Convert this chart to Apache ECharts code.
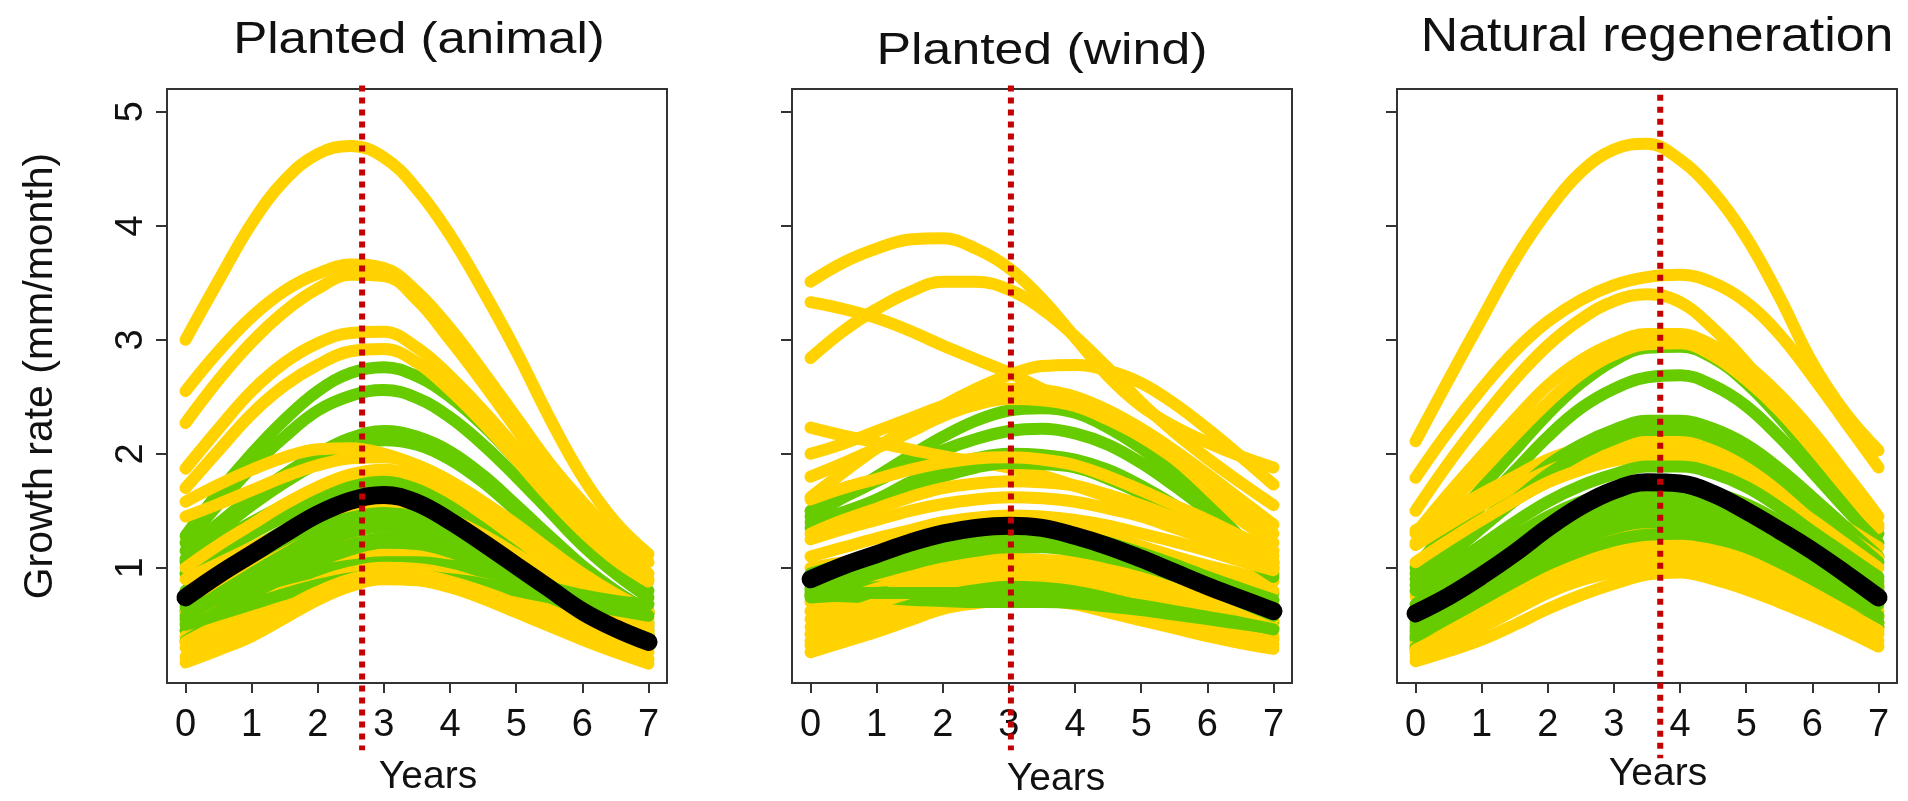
<!DOCTYPE html>
<html>
<head>
<meta charset="utf-8">
<script src="https://cdn.jsdelivr.net/npm/echarts@6/dist/echarts.min.js"></script>
<style>
  html, body { margin: 0; padding: 0; background: #ffffff; }
  #chart { width: 1908px; height: 801px; }
</style>
</head>
<body>
<div id="chart"></div>
<script>
// Years since planting at which each growth curve is sampled (half-year steps)
const years = [0, 0.5, 1, 1.5, 2, 2.5, 3, 3.5, 4, 4.5, 5, 5.5, 6, 6.5, 7];
const xTickValues = [0, 1, 2, 3, 4, 5, 6, 7];
const yTickValues = [1, 2, 3, 4, 5];

const panelTitles = ['Planted (animal)', 'Planted (wind)', 'Natural regeneration'];
const xAxisTitle = 'Years';
const yAxisTitle = 'Growth rate (mm/month)';

// Year of peak mean growth in each panel (red dotted marker)
const peakYears = [2.67, 3.03, 3.70];

// ---- Planted (animal) ----
const animalYellow = [
  [3.00, 3.52, 4.02, 4.40, 4.63, 4.70, 4.60, 4.32, 3.92, 3.43, 2.90, 2.32, 1.80, 1.40, 1.12],
  [2.55, 2.90, 3.20, 3.43, 3.58, 3.66, 3.63, 3.42, 3.10, 2.72, 2.32, 1.92, 1.58, 1.28, 1.05],
  [2.27, 2.65, 2.98, 3.25, 3.45, 3.57, 3.56, 3.35, 3.00, 2.62, 2.22, 1.83, 1.48, 1.18, 0.95],
  [1.87, 2.22, 2.55, 2.80, 2.97, 3.06, 3.07, 2.93, 2.68, 2.38, 2.05, 1.70, 1.38, 1.10, 0.90],
  [1.70, 2.03, 2.35, 2.60, 2.78, 2.90, 2.92, 2.80, 2.56, 2.27, 1.95, 1.62, 1.32, 1.07, 0.88],
  [1.58, 1.73, 1.86, 1.97, 2.04, 2.05, 2.00, 1.90, 1.76, 1.58, 1.38, 1.16, 0.95, 0.77, 0.62],
  [1.45, 1.56, 1.68, 1.80, 1.90, 1.96, 1.97, 1.90, 1.76, 1.57, 1.36, 1.14, 0.93, 0.75, 0.60],
  [1.00, 1.20, 1.38, 1.56, 1.71, 1.82, 1.86, 1.80, 1.66, 1.47, 1.26, 1.05, 0.86, 0.69, 0.55],
  [0.90, 1.04, 1.18, 1.32, 1.45, 1.54, 1.58, 1.54, 1.43, 1.29, 1.12, 0.95, 0.78, 0.63, 0.50],
  [0.62, 0.80, 0.97, 1.13, 1.27, 1.36, 1.40, 1.37, 1.28, 1.15, 1.00, 0.84, 0.69, 0.56, 0.45],
  [0.52, 0.69, 0.85, 1.00, 1.12, 1.21, 1.25, 1.23, 1.15, 1.04, 0.90, 0.76, 0.63, 0.51, 0.42],
  [0.45, 0.62, 0.78, 0.92, 1.05, 1.14, 1.18, 1.16, 1.10, 0.98, 0.85, 0.71, 0.58, 0.46, 0.36],
  [0.40, 0.54, 0.68, 0.82, 0.95, 1.05, 1.10, 1.08, 1.03, 0.93, 0.80, 0.67, 0.55, 0.43, 0.32],
  [0.35, 0.50, 0.65, 0.80, 0.93, 1.02, 1.06, 1.04, 0.98, 0.88, 0.76, 0.63, 0.51, 0.40, 0.30],
  [0.30, 0.44, 0.58, 0.73, 0.87, 0.96, 1.00, 0.99, 0.94, 0.85, 0.74, 0.61, 0.49, 0.37, 0.26],
  [0.22, 0.35, 0.48, 0.64, 0.79, 0.90, 0.95, 0.94, 0.88, 0.79, 0.68, 0.55, 0.43, 0.31, 0.20],
  [0.17, 0.28, 0.40, 0.56, 0.72, 0.84, 0.90, 0.89, 0.83, 0.73, 0.61, 0.49, 0.37, 0.26, 0.16]
];
const animalGreen = [
  [1.28, 1.66, 2.00, 2.30, 2.55, 2.71, 2.76, 2.68, 2.50, 2.25, 1.95, 1.62, 1.30, 1.02, 0.80],
  [1.22, 1.56, 1.88, 2.15, 2.38, 2.51, 2.56, 2.49, 2.32, 2.08, 1.80, 1.50, 1.20, 0.95, 0.74],
  [1.15, 1.39, 1.62, 1.82, 2.00, 2.14, 2.20, 2.15, 2.02, 1.81, 1.55, 1.28, 1.02, 0.80, 0.62],
  [1.08, 1.32, 1.55, 1.75, 1.92, 2.06, 2.12, 2.08, 1.95, 1.75, 1.50, 1.24, 0.98, 0.77, 0.60],
  [1.05, 1.23, 1.40, 1.55, 1.68, 1.76, 1.78, 1.73, 1.62, 1.44, 1.22, 1.00, 0.80, 0.62, 0.48],
  [0.95, 1.13, 1.30, 1.45, 1.58, 1.67, 1.70, 1.66, 1.55, 1.38, 1.17, 0.96, 0.76, 0.59, 0.45],
  [0.80, 0.99, 1.17, 1.33, 1.47, 1.57, 1.62, 1.60, 1.51, 1.36, 1.17, 0.97, 0.79, 0.64, 0.52],
  [0.68, 0.90, 1.10, 1.27, 1.42, 1.51, 1.55, 1.52, 1.42, 1.27, 1.08, 0.88, 0.70, 0.55, 0.42],
  [0.62, 0.83, 1.02, 1.19, 1.35, 1.44, 1.48, 1.45, 1.36, 1.21, 1.03, 0.85, 0.68, 0.53, 0.40],
  [0.58, 0.77, 0.95, 1.12, 1.28, 1.38, 1.42, 1.39, 1.30, 1.15, 0.98, 0.81, 0.64, 0.50, 0.38],
  [0.55, 0.73, 0.90, 1.06, 1.20, 1.31, 1.36, 1.34, 1.25, 1.11, 0.95, 0.78, 0.62, 0.48, 0.36],
  [0.45, 0.62, 0.79, 0.95, 1.10, 1.20, 1.26, 1.25, 1.18, 1.06, 0.92, 0.77, 0.62, 0.49, 0.38],
  [0.36, 0.54, 0.72, 0.89, 1.05, 1.16, 1.22, 1.21, 1.14, 1.02, 0.88, 0.72, 0.57, 0.43, 0.30],
  [0.65, 0.74, 0.82, 0.90, 0.97, 1.02, 1.05, 1.05, 1.02, 0.97, 0.90, 0.83, 0.76, 0.71, 0.68],
  [0.50, 0.59, 0.68, 0.77, 0.85, 0.91, 0.94, 0.93, 0.90, 0.86, 0.80, 0.74, 0.68, 0.63, 0.58]
];
const animalMean = [0.74, 0.94, 1.12, 1.30, 1.47, 1.59, 1.64, 1.57, 1.41, 1.22, 1.02, 0.82, 0.62, 0.47, 0.35];

// ---- Planted (wind) ----
const windYellow = [
  [0.42, 0.52, 0.62, 0.72, 0.80, 0.85, 0.88, 0.87, 0.85, 0.79, 0.72, 0.64, 0.55, 0.47, 0.40],
  [0.36, 0.46, 0.56, 0.66, 0.74, 0.79, 0.82, 0.81, 0.79, 0.73, 0.66, 0.59, 0.51, 0.44, 0.37],
  [0.32, 0.41, 0.50, 0.60, 0.68, 0.73, 0.76, 0.75, 0.73, 0.67, 0.60, 0.53, 0.46, 0.39, 0.33],
  [0.26, 0.35, 0.44, 0.54, 0.64, 0.69, 0.72, 0.71, 0.68, 0.61, 0.54, 0.47, 0.40, 0.34, 0.29],
  [0.85, 0.97, 1.08, 1.18, 1.26, 1.32, 1.35, 1.35, 1.33, 1.27, 1.19, 1.10, 1.02, 0.95, 0.88],
  [0.70, 0.80, 0.88, 0.96, 1.02, 1.06, 1.08, 1.07, 1.05, 0.99, 0.92, 0.85, 0.78, 0.73, 0.68],
  [0.62, 0.72, 0.82, 0.90, 0.97, 1.02, 1.04, 1.04, 1.01, 0.95, 0.88, 0.81, 0.74, 0.68, 0.62],
  [0.55, 0.66, 0.75, 0.84, 0.92, 0.97, 1.00, 0.99, 0.95, 0.89, 0.82, 0.75, 0.68, 0.61, 0.55],
  [0.48, 0.59, 0.69, 0.78, 0.86, 0.91, 0.94, 0.93, 0.90, 0.84, 0.77, 0.70, 0.62, 0.55, 0.48],
  [1.00, 1.05, 1.10, 1.14, 1.18, 1.21, 1.22, 1.22, 1.20, 1.16, 1.10, 1.03, 0.95, 0.88, 0.80],
  [3.51, 3.68, 3.80, 3.88, 3.89, 3.80, 3.63, 3.36, 3.02, 2.68, 2.42, 2.24, 2.10, 1.98, 1.88],
  [2.84, 3.08, 3.27, 3.42, 3.51, 3.51, 3.44, 3.27, 3.03, 2.75, 2.45, 2.19, 1.96, 1.75, 1.55],
  [3.33, 3.27, 3.19, 3.08, 2.95, 2.83, 2.71, 2.57, 2.42, 2.24, 2.05, 1.84, 1.62, 1.42, 1.22],
  [1.62, 1.84, 2.05, 2.24, 2.42, 2.57, 2.69, 2.77, 2.78, 2.73, 2.62, 2.44, 2.22, 1.98, 1.73],
  [2.23, 2.16, 2.10, 2.04, 1.98, 1.93, 1.88, 1.81, 1.72, 1.62, 1.50, 1.39, 1.28, 1.16, 1.05],
  [2.00, 2.09, 2.20, 2.31, 2.42, 2.51, 2.57, 2.56, 2.50, 2.38, 2.22, 2.03, 1.82, 1.60, 1.38],
  [1.80, 1.92, 2.05, 2.19, 2.33, 2.43, 2.48, 2.47, 2.42, 2.30, 2.15, 1.96, 1.75, 1.53, 1.30],
  [1.60, 1.70, 1.78, 1.86, 1.92, 1.96, 1.97, 1.95, 1.90, 1.80, 1.68, 1.55, 1.42, 1.28, 1.15],
  [1.30, 1.42, 1.52, 1.62, 1.70, 1.74, 1.76, 1.75, 1.72, 1.64, 1.55, 1.44, 1.33, 1.21, 1.10],
  [1.25, 1.34, 1.42, 1.50, 1.56, 1.60, 1.62, 1.61, 1.58, 1.52, 1.45, 1.35, 1.25, 1.13, 1.02],
  [1.10, 1.18, 1.26, 1.33, 1.40, 1.44, 1.46, 1.45, 1.42, 1.37, 1.30, 1.23, 1.15, 1.06, 0.98]
];
const windGreen = [
  [0.86, 0.89, 0.92, 0.95, 0.98, 1.00, 1.02, 1.02, 1.00, 0.97, 0.94, 0.90, 0.86, 0.82, 0.78],
  [0.80, 0.81, 0.83, 0.85, 0.86, 0.87, 0.87, 0.86, 0.84, 0.80, 0.76, 0.72, 0.67, 0.63, 0.60],
  [0.74, 0.76, 0.78, 0.80, 0.82, 0.83, 0.84, 0.83, 0.80, 0.76, 0.72, 0.67, 0.62, 0.57, 0.52],
  [0.76, 0.75, 0.74, 0.72, 0.71, 0.70, 0.70, 0.70, 0.69, 0.66, 0.63, 0.59, 0.55, 0.51, 0.47],
  [0.78, 0.78, 0.78, 0.78, 0.78, 0.78, 0.78, 0.77, 0.75, 0.71, 0.67, 0.62, 0.57, 0.52, 0.46],
  [0.95, 1.03, 1.11, 1.18, 1.25, 1.30, 1.32, 1.32, 1.29, 1.22, 1.13, 1.03, 0.92, 0.82, 0.72],
  [0.82, 0.91, 1.00, 1.10, 1.18, 1.24, 1.28, 1.28, 1.25, 1.18, 1.10, 1.00, 0.90, 0.78, 0.66],
  [0.76, 0.86, 0.95, 1.03, 1.10, 1.15, 1.18, 1.18, 1.15, 1.09, 1.02, 0.93, 0.83, 0.70, 0.58],
  [1.45, 1.62, 1.80, 1.98, 2.15, 2.29, 2.38, 2.40, 2.36, 2.23, 2.05, 1.82, 1.55, 1.27, 1.00],
  [1.50, 1.62, 1.76, 1.90, 2.03, 2.13, 2.20, 2.22, 2.18, 2.08, 1.92, 1.72, 1.50, 1.27, 1.05],
  [1.40, 1.49, 1.60, 1.75, 1.88, 1.96, 2.00, 1.99, 1.95, 1.86, 1.72, 1.55, 1.35, 1.15, 0.95],
  [1.35, 1.44, 1.55, 1.68, 1.80, 1.88, 1.92, 1.91, 1.88, 1.78, 1.65, 1.48, 1.30, 1.11, 0.92]
];
const windMean = [0.90, 1.02, 1.12, 1.22, 1.30, 1.35, 1.37, 1.35, 1.28, 1.19, 1.08, 0.96, 0.84, 0.73, 0.62];

// ---- Natural regeneration ----
const naturalYellow = [
  [0.75, 0.91, 1.06, 1.20, 1.33, 1.43, 1.50, 1.54, 1.54, 1.49, 1.40, 1.27, 1.12, 0.98, 0.85],
  [0.55, 0.72, 0.89, 1.05, 1.19, 1.30, 1.37, 1.40, 1.40, 1.35, 1.26, 1.13, 0.97, 0.80, 0.62],
  [0.42, 0.60, 0.78, 0.95, 1.10, 1.22, 1.30, 1.33, 1.33, 1.28, 1.19, 1.06, 0.90, 0.73, 0.57],
  [0.35, 0.53, 0.70, 0.87, 1.02, 1.14, 1.22, 1.25, 1.25, 1.20, 1.11, 0.98, 0.84, 0.68, 0.52],
  [0.32, 0.48, 0.64, 0.80, 0.95, 1.07, 1.15, 1.19, 1.19, 1.14, 1.06, 0.94, 0.80, 0.64, 0.48],
  [0.28, 0.43, 0.58, 0.74, 0.90, 1.01, 1.08, 1.12, 1.12, 1.07, 1.00, 0.89, 0.76, 0.61, 0.45],
  [0.26, 0.40, 0.54, 0.69, 0.84, 0.95, 1.02, 1.06, 1.06, 1.02, 0.95, 0.84, 0.71, 0.57, 0.42],
  [0.22, 0.35, 0.48, 0.63, 0.78, 0.89, 0.96, 1.00, 1.00, 0.96, 0.89, 0.78, 0.66, 0.51, 0.36],
  [0.18, 0.27, 0.37, 0.50, 0.64, 0.76, 0.86, 0.94, 0.96, 0.90, 0.81, 0.70, 0.58, 0.45, 0.31],
  [2.11, 2.65, 3.18, 3.70, 4.13, 4.47, 4.67, 4.72, 4.58, 4.30, 3.90, 3.38, 2.80, 2.36, 2.03],
  [1.79, 2.20, 2.57, 2.90, 3.16, 3.35, 3.48, 3.55, 3.57, 3.50, 3.33, 3.05, 2.68, 2.28, 1.88],
  [1.50, 1.92, 2.30, 2.65, 2.95, 3.18, 3.34, 3.40, 3.33, 3.10, 2.80, 2.43, 2.05, 1.70, 1.38],
  [1.30, 1.65, 1.98, 2.30, 2.60, 2.82, 2.97, 3.05, 3.05, 2.95, 2.78, 2.52, 2.20, 1.83, 1.45],
  [1.22, 1.54, 1.85, 2.16, 2.45, 2.70, 2.87, 2.96, 2.97, 2.86, 2.65, 2.38, 2.05, 1.70, 1.35],
  [1.33, 1.49, 1.65, 1.80, 1.95, 2.05, 2.12, 2.15, 2.14, 2.07, 1.95, 1.77, 1.56, 1.36, 1.18],
  [1.20, 1.38, 1.55, 1.71, 1.85, 1.95, 2.02, 2.05, 2.04, 1.98, 1.87, 1.70, 1.50, 1.29, 1.09],
  [1.05, 1.24, 1.42, 1.59, 1.75, 1.86, 1.94, 1.97, 1.96, 1.90, 1.79, 1.62, 1.42, 1.21, 1.00]
];
const naturalGreen = [
  [0.38, 0.50, 0.62, 0.75, 0.88, 0.98, 1.05, 1.09, 1.10, 1.06, 1.00, 0.89, 0.76, 0.64, 0.52],
  [0.30, 0.42, 0.55, 0.68, 0.82, 0.92, 1.00, 1.04, 1.05, 1.01, 0.95, 0.84, 0.72, 0.60, 0.48],
  [0.40, 0.56, 0.72, 0.88, 1.03, 1.15, 1.24, 1.29, 1.30, 1.26, 1.18, 1.05, 0.90, 0.74, 0.58],
  [0.68, 0.89, 1.09, 1.28, 1.45, 1.58, 1.67, 1.72, 1.72, 1.66, 1.56, 1.41, 1.23, 1.05, 0.88],
  [0.62, 0.82, 1.02, 1.20, 1.37, 1.50, 1.60, 1.66, 1.66, 1.61, 1.52, 1.37, 1.19, 1.00, 0.83],
  [0.57, 0.79, 1.00, 1.18, 1.35, 1.48, 1.58, 1.63, 1.63, 1.58, 1.49, 1.34, 1.15, 0.97, 0.80],
  [0.52, 0.72, 0.92, 1.11, 1.28, 1.41, 1.50, 1.55, 1.55, 1.50, 1.41, 1.27, 1.10, 0.93, 0.76],
  [0.48, 0.67, 0.85, 1.02, 1.18, 1.32, 1.42, 1.47, 1.47, 1.43, 1.34, 1.21, 1.05, 0.88, 0.72],
  [0.45, 0.63, 0.80, 0.97, 1.12, 1.25, 1.35, 1.40, 1.40, 1.36, 1.27, 1.15, 1.00, 0.84, 0.68],
  [1.00, 1.35, 1.70, 2.03, 2.35, 2.62, 2.82, 2.93, 2.94, 2.84, 2.62, 2.32, 1.97, 1.62, 1.30],
  [0.95, 1.25, 1.55, 1.85, 2.15, 2.40, 2.57, 2.67, 2.69, 2.60, 2.42, 2.15, 1.84, 1.52, 1.22],
  [0.90, 1.15, 1.40, 1.65, 1.90, 2.08, 2.21, 2.29, 2.29, 2.22, 2.08, 1.87, 1.62, 1.36, 1.10],
  [0.85, 1.10, 1.35, 1.59, 1.82, 2.00, 2.13, 2.21, 2.21, 2.14, 2.00, 1.80, 1.55, 1.30, 1.05],
  [0.80, 1.00, 1.20, 1.40, 1.58, 1.72, 1.82, 1.89, 1.89, 1.83, 1.71, 1.53, 1.32, 1.12, 0.92]
];
const naturalMean = [0.60, 0.75, 0.93, 1.13, 1.35, 1.54, 1.68, 1.75, 1.74, 1.65, 1.50, 1.33, 1.15, 0.95, 0.74];

// ---------------------------------------------------------------
// greenLag: number of yellow curves drawn before the first green one
const panels = [
  { yellow: animalYellow,  green: animalGreen,  mean: animalMean,  greenLag: 0 },
  { yellow: windYellow,    green: windGreen,    mean: windMean,    greenLag: 4 },
  { yellow: naturalYellow, green: naturalGreen, mean: naturalMean, greenLag: 3 }
];

const FONT = '"Liberation Sans", Arial, Helvetica, sans-serif';
const YELLOW = '#FFD200';
const GREEN = '#66CC00';
const BOX = '#333333';
const gridLeft = [167, 792, 1397];
const GRID_TOP = 89, GRID_W = 500, GRID_H = 594;
const markerTop = [5.23, 5.23, 5.15];
const markerBottom = [-0.6, -0.6, -0.67];

function curve(values, color, width, idx, z) {
  return {
    type: 'line',
    xAxisIndex: idx,
    yAxisIndex: idx,
    data: years.map((t, i) => [t, values[i]]),
    smooth: 0.4,
    symbol: 'none',
    showSymbol: false,
    silent: true,
    animation: false,
    z: z,
    lineStyle: { color: color, width: width, cap: 'round', join: 'round' }
  };
}

const grids = [], xAxes = [], yAxes = [], series = [];

panels.forEach((p, idx) => {
  grids.push({
    left: gridLeft[idx], top: GRID_TOP, width: GRID_W, height: GRID_H,
    show: true, borderColor: BOX, borderWidth: 2, backgroundColor: 'transparent',
    containLabel: false, outerBoundsMode: 'none'
  });
  xAxes.push({
    gridIndex: idx, type: 'value', min: -0.28, max: 7.28,
    axisLine: { show: false, onZero: false },
    splitLine: { show: false },
    axisTick: { show: true, customValues: xTickValues, length: 10, inside: false,
                lineStyle: { color: BOX, width: 2 } },
    axisLabel: { show: true, customValues: xTickValues, fontSize: 38, fontFamily: FONT,
                 color: '#111', margin: 24 }
  });
  yAxes.push({
    gridIndex: idx, type: 'value', min: -0.01, max: 5.2,
    axisLine: { show: false, onZero: false },
    splitLine: { show: false },
    axisTick: { show: true, customValues: yTickValues, length: 11, inside: false,
                lineStyle: { color: BOX, width: 2 } },
    axisLabel: { show: idx === 0, customValues: yTickValues, rotate: 90, fontSize: 38,
                 fontFamily: FONT, color: '#111', margin: 16.5 }
  });

  // individual curves, yellow and green interleaved
  const ny = p.yellow.length, ng = p.green.length;
  for (let i = 0; i < ny; i++) {
    series.push(curve(p.yellow[i], YELLOW, 12, idx, 2));
    const j = i - p.greenLag;
    if (j >= 0 && j < ng) series.push(curve(p.green[j], GREEN, 12, idx, 2));
  }
  for (let j = Math.max(0, ny - p.greenLag); j < ng; j++) {
    series.push(curve(p.green[j], GREEN, 12, idx, 2));
  }
  // mean curve
  series.push(curve(p.mean, '#000000', 18, idx, 3));
  // peak marker
  series.push({
    type: 'line', xAxisIndex: idx, yAxisIndex: idx,
    data: [[peakYears[idx], markerTop[idx]], [peakYears[idx], markerBottom[idx]]],
    clip: false, symbol: 'none', showSymbol: false, silent: true, animation: false, z: 4,
    lineStyle: { color: '#C40000', width: 6, type: [6, 6], cap: 'butt' }
  });
});

const titleX = [419, 1042, 1657];
const titleY = [41, 52, 37.5];
const titleSize = [44, 45, 48];
const titleScale = [1.16, 1.15, 1.08];
const yearsX = [428, 1056, 1658];
const yearsY = [777.5, 779.5, 774.5];

const graphic = [];
panelTitles.forEach((t, i) => {
  graphic.push({
    type: 'text', x: titleX[i], y: titleY[i], scaleX: titleScale[i], silent: true,
    style: { text: t, font: titleSize[i] + 'px ' + FONT, fill: '#111',
             align: 'center', verticalAlign: 'middle',
             textAlign: 'center', textVerticalAlign: 'middle' }
  });
  graphic.push({
    type: 'text', x: yearsX[i], y: yearsY[i], silent: true,
    style: { text: xAxisTitle, font: '39px ' + FONT, fill: '#111',
             align: 'center', verticalAlign: 'middle',
             textAlign: 'center', textVerticalAlign: 'middle' }
  });
});
graphic.push({
  type: 'text', x: 40.5, y: 376, rotation: Math.PI / 2, silent: true,
  style: { text: yAxisTitle, font: '41px ' + FONT, fill: '#111',
           align: 'center', verticalAlign: 'middle',
           textAlign: 'center', textVerticalAlign: 'middle' }
});

const chart = echarts.init(document.getElementById('chart'), null, { renderer: 'canvas' });
chart.setOption({
  backgroundColor: '#ffffff',
  animation: false,
  grid: grids,
  xAxis: xAxes,
  yAxis: yAxes,
  series: series,
  graphic: graphic
});
</script>
</body>
</html>
